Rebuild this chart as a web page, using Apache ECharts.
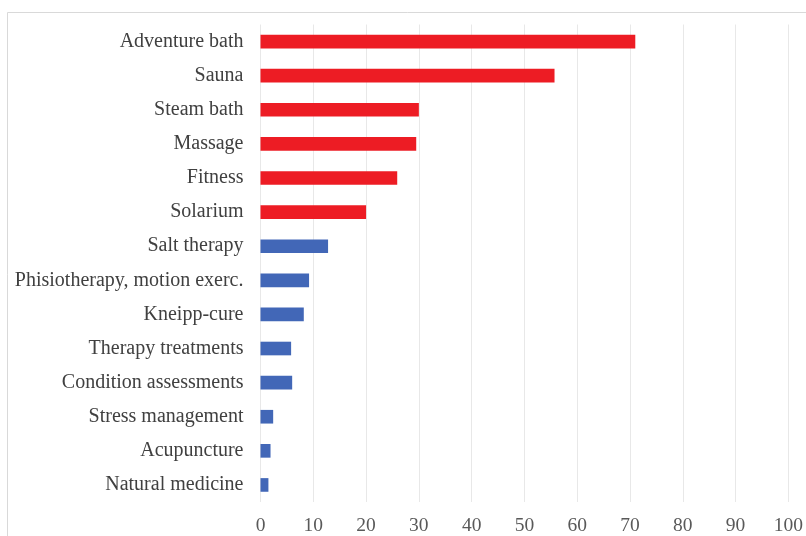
<!DOCTYPE html>
<html>
<head>
<meta charset="utf-8">
<title>Wellness services</title>
<script src="https://cdn.jsdelivr.net/npm/echarts@6/dist/echarts.min.js"></script>
<style>
  html, body { margin: 0; padding: 0; background: #ffffff; }
  #chart { width: 806px; height: 536px; }
</style>
</head>
<body>
<div id="chart"></div>
<script>
// Services, listed top to bottom
const categories = [
  'Adventure bath', 'Sauna', 'Steam bath', 'Massage', 'Fitness', 'Solarium',
  'Salt therapy', 'Phisiotherapy, motion exerc.', 'Kneipp-cure', 'Therapy treatments',
  'Condition assessments', 'Stress management', 'Acupuncture', 'Natural medicine'
];
// Share of respondents (%)
const values = [71.0, 55.7, 30.0, 29.5, 25.9, 20.0, 12.8, 9.2, 8.2, 5.8, 6.0, 2.4, 1.9, 1.5];
// Group of each service: 'main' services are drawn red, the others blue
const groups = ['main', 'main', 'main', 'main', 'main', 'main',
  'other', 'other', 'other', 'other', 'other', 'other', 'other', 'other'];
const xTicks = [0, 10, 20, 30, 40, 50, 60, 70, 80, 90, 100];

const groupColors = { main: '#ED1C24', other: '#4267B7' };
const fontFamily = '"Liberation Serif", "Times New Roman", serif';

const chart = echarts.init(document.getElementById('chart'), null, { renderer: 'canvas' });
chart.setOption({
  animation: false,
  backgroundColor: '#ffffff',
  graphic: [{
    type: 'rect',
    silent: true,
    shape: { x: 7.5, y: 12.5, width: 900, height: 600 },
    style: { fill: 'none', stroke: '#d9d9d9', lineWidth: 1 }
  }],
  grid: { left: 260.5, right: 16, top: 24.5, bottom: 34, containLabel: false },
  xAxis: {
    type: 'value',
    min: xTicks[0],
    max: xTicks[xTicks.length - 1],
    interval: xTicks[1] - xTicks[0],
    axisLine: { show: false },
    axisTick: { show: false },
    splitLine: { show: true, lineStyle: { color: '#e8e8e8', width: 1 } },
    axisLabel: { color: '#595959', fontFamily, fontSize: 19.5, margin: 14 }
  },
  yAxis: {
    type: 'category',
    data: categories,
    inverse: true,
    axisLine: { show: false },
    axisTick: { show: false },
    splitLine: { show: false },
    axisLabel: { color: '#404040', fontFamily, fontSize: 20, margin: 17 }
  },
  series: [{
    type: 'bar',
    barCategoryGap: '60%',
    data: values.map((v, i) => ({ value: v, itemStyle: { color: groupColors[groups[i]] } }))
  }]
});
</script>
</body>
</html>
